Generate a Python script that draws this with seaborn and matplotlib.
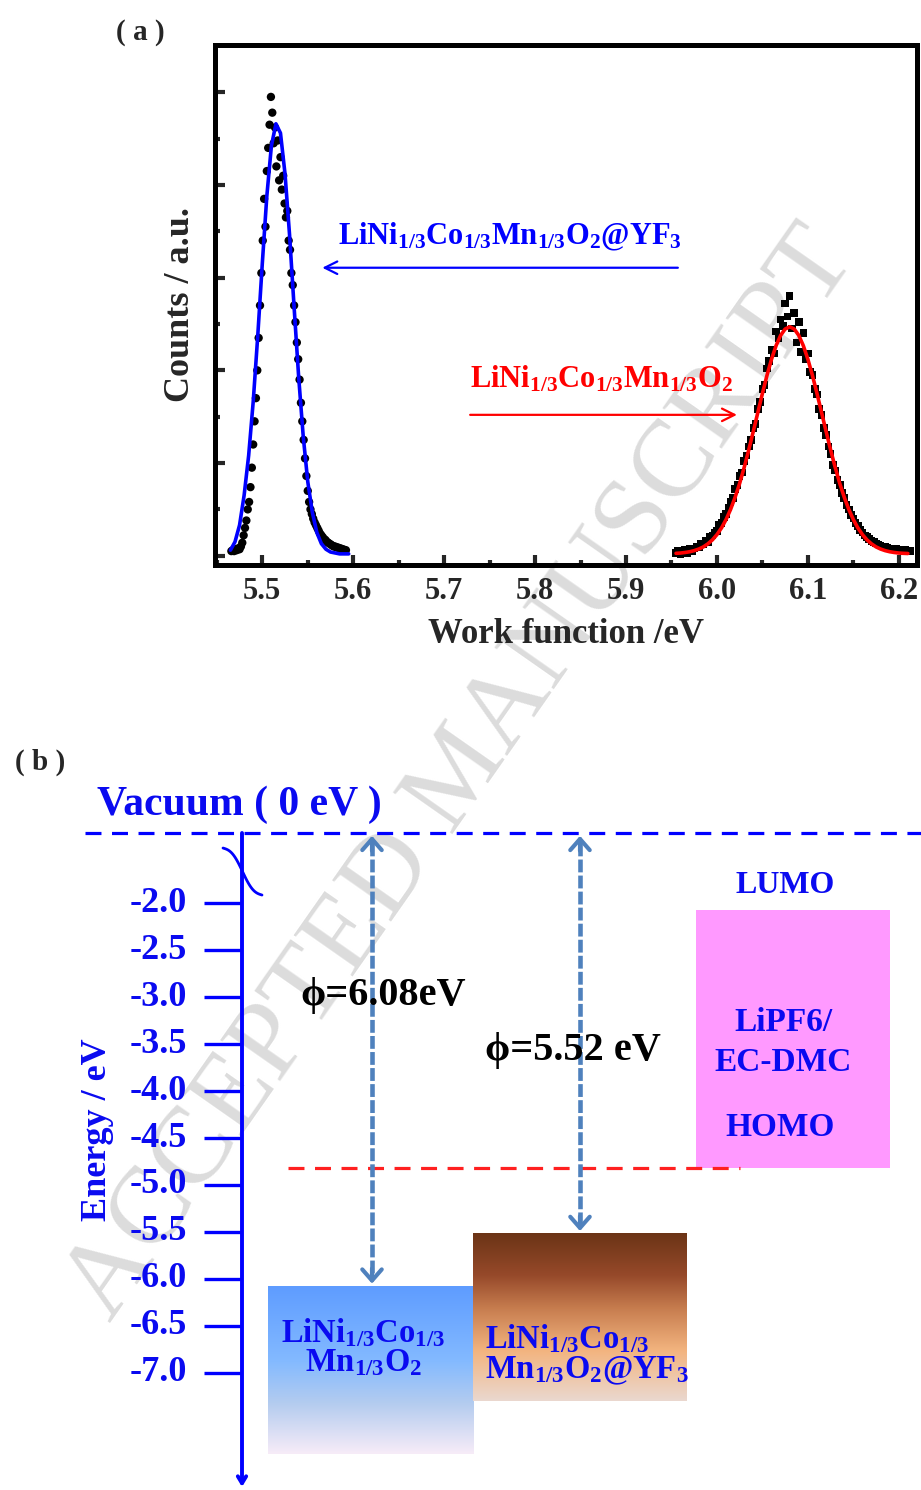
import numpy as np
import matplotlib
matplotlib.use("Agg")
import matplotlib.pyplot as plt
import seaborn as sns
from matplotlib.colors import LinearSegmentedColormap
from matplotlib.patches import Rectangle

# ---------------------------------------------------------------- data
# (a) Kelvin-probe work-function histograms
coated_ev_start, coated_ev_step = 5.466, 0.0015
coated_counts = [
    0.05, 0.06, 0.05, 0.07, 0.06, 0.08, 0.07, 0.10, 0.14, 0.22,
    0.30, 0.38, 0.50, 0.58, 0.74, 0.95, 1.20, 1.45, 1.70, 2.00,
    2.35, 2.70, 3.05, 3.40, 3.85, 3.55, 4.15, 4.40, 4.65, 4.95,
    4.78, 4.45, 4.62, 4.20, 4.48, 4.05, 4.30, 3.95, 4.10, 3.80,
    3.65, 3.72, 3.40, 3.30, 3.05, 2.92, 2.70, 2.52, 2.30, 2.12,
    1.90, 1.65, 1.45, 1.25, 1.05, 0.86, 0.70, 0.58, 0.50, 0.45,
    0.40, 0.36, 0.33, 0.30, 0.27, 0.24, 0.22, 0.20, 0.18, 0.17,
    0.15, 0.14, 0.13, 0.12, 0.11, 0.10, 0.10, 0.09, 0.09, 0.08,
    0.08, 0.07, 0.07, 0.06, 0.06,
]
coated_fit_ev = [5.465, 5.470, 5.475, 5.480, 5.485, 5.490, 5.495, 5.500, 5.505,
                 5.510, 5.515, 5.520, 5.525, 5.530, 5.535, 5.540, 5.545, 5.550,
                 5.555, 5.560, 5.565, 5.570, 5.575, 5.580, 5.585, 5.590, 5.595]
coated_fit = [0.06, 0.15, 0.33, 0.65, 1.08, 1.66, 2.37, 3.15, 3.88,
              4.42, 4.66, 4.56, 4.12, 3.46, 2.68, 1.93, 1.29, 0.80,
              0.47, 0.25, 0.13, 0.07, 0.04, 0.03, 0.02, 0.02, 0.02]

pristine_ev_start, pristine_ev_step = 5.955, 0.0025
pristine_counts = [
    0.03, 0.05, 0.02, 0.04, 0.06, 0.03, 0.07, 0.05, 0.08, 0.10,
    0.09, 0.13, 0.12, 0.16, 0.15, 0.20, 0.22, 0.25, 0.27, 0.33,
    0.35, 0.42, 0.45, 0.52, 0.58, 0.62, 0.72, 0.76, 0.86, 0.90,
    1.02, 1.08, 1.18, 1.25, 1.38, 1.42, 1.58, 1.66, 1.80, 1.84,
    2.02, 2.10, 2.22, 2.18, 2.42, 2.35, 2.55, 2.48, 2.72, 2.58,
    2.80, 2.45, 2.62, 2.30, 2.52, 2.20, 2.40, 2.12, 2.18, 1.98,
    1.95, 1.80, 1.74, 1.58, 1.52, 1.38, 1.30, 1.18, 1.10, 0.98,
    0.92, 0.82, 0.76, 0.68, 0.62, 0.55, 0.50, 0.44, 0.40, 0.35,
    0.32, 0.28, 0.25, 0.22, 0.20, 0.18, 0.16, 0.15, 0.13, 0.12,
    0.11, 0.10, 0.10, 0.09, 0.08, 0.08, 0.07, 0.07, 0.06, 0.06,
    0.05, 0.06, 0.05, 0.05,
]
pristine_fit_ev = [5.955, 5.960, 5.965, 5.970, 5.975, 5.980, 5.985, 5.990, 5.995,
                   6.000, 6.005, 6.010, 6.015, 6.020, 6.025, 6.030, 6.035, 6.040,
                   6.045, 6.050, 6.055, 6.060, 6.065, 6.070, 6.075, 6.080, 6.085,
                   6.090, 6.095, 6.100, 6.105, 6.110, 6.115, 6.120, 6.125, 6.130,
                   6.135, 6.140, 6.145, 6.150, 6.155, 6.160, 6.165, 6.170, 6.175,
                   6.180, 6.185, 6.190, 6.195, 6.200, 6.205, 6.210]
pristine_fit = [0.026, 0.029, 0.035, 0.043, 0.055, 0.072, 0.095, 0.128, 0.171,
                0.228, 0.300, 0.390, 0.500, 0.631, 0.782, 0.954, 1.142, 1.342,
                1.547, 1.751, 1.945, 2.120, 2.266, 2.377, 2.446, 2.470, 2.446,
                2.377, 2.266, 2.120, 1.945, 1.751, 1.547, 1.342, 1.142, 0.954,
                0.782, 0.631, 0.500, 0.390, 0.300, 0.228, 0.171, 0.128, 0.095,
                0.072, 0.055, 0.043, 0.035, 0.029, 0.026, 0.024]

x_major_ticks = [5.5, 5.6, 5.7, 5.8, 5.9, 6.0, 6.1, 6.2]
x_tick_labels = ["5.5", "5.6", "5.7", "5.8", "5.9", "6.0", "6.1", "6.2"]

# (b) energy-level diagram
energy_ticks = [-2.0, -2.5, -3.0, -3.5, -4.0, -4.5, -5.0, -5.5, -6.0, -6.5, -7.0]
energy_tick_labels = ["-2.0", "-2.5", "-3.0", "-3.5", "-4.0", "-4.5",
                      "-5.0", "-5.5", "-6.0", "-6.5", "-7.0"]
work_functions = [6.08, 5.52]          # pristine, YF3-coated
wf_labels = ["\u03d5=6.08eV", "\u03d5=5.52 eV"]
electrolyte_lumo = -2.07
electrolyte_homo = -4.82

coated_ev = np.round(coated_ev_start + coated_ev_step * np.arange(len(coated_counts)), 4)
pristine_ev = np.round(pristine_ev_start + pristine_ev_step * np.arange(len(pristine_counts)), 4)

# ---------------------------------------------------------------- style
sns.set_style("ticks")
plt.rcParams.update({
    "font.family": ["Liberation Serif", "DejaVu Serif"],
    "font.weight": "bold",
    "mathtext.fontset": "custom",
    "mathtext.rm": "Liberation Serif:bold",
    "mathtext.it": "Liberation Serif:bold:italic",
    "mathtext.bf": "Liberation Serif:bold",
    "mathtext.default": "regular",
    "axes.linewidth": 3.6,
    "axes.edgecolor": "black",
})

W, H = 921, 1490
fig = plt.figure(figsize=(W / 100, H / 100), dpi=100)
fig.patch.set_facecolor("white")

# faint diagonal stamp behind both panels
fig.text(462 / W, 1 - 775 / H, "ACCEPTED MANUSCRIPT", rotation=55,
         rotation_mode="anchor", ha="center", va="center", fontsize=79,
         fontweight="normal", color="#dcdcdc", zorder=-5)

# ---------------------------------------------------------------- panel (a)
ax = fig.add_axes([215 / W, 1 - 565 / H, 702 / W, 520 / H])
ax.set_facecolor("none")

sns.scatterplot(x=coated_ev, y=coated_counts, ax=ax, color="black", marker="o",
                s=36, edgecolor="none", linewidth=0, zorder=3, legend=False)
sns.scatterplot(x=pristine_ev, y=pristine_counts, ax=ax, color="black", marker="s",
                s=30, edgecolor="none", linewidth=0, zorder=3, legend=False)
sns.lineplot(x=coated_fit_ev, y=coated_fit, ax=ax, color="#0000ff", lw=2.6,
             estimator=None, sort=False, zorder=4)
sns.lineplot(x=pristine_fit_ev, y=pristine_fit, ax=ax, color="#ff0000", lw=2.6,
             estimator=None, sort=False, zorder=4)

ax.set_xlim(5.448, 6.22)
ax.set_ylim(-0.1, 5.51)
ax.set_xticks(x_major_ticks)
ax.set_xticklabels(x_tick_labels)
ax.set_xticks(np.arange(5.45, 6.21, 0.1), minor=True)
ax.set_yticks([0, 1, 2, 3, 4, 5])
ax.set_yticks([0.5, 1.5, 2.5, 3.5, 4.5], minor=True)
ax.set_yticklabels([])
ax.tick_params(axis="both", which="major", direction="in", length=7, width=3,
               labelsize=22, pad=9)
ax.tick_params(axis="both", which="minor", direction="in", length=3.5, width=3)
for lab in ax.get_xticklabels():
    lab.set_fontweight("bold")
ax.set_xlabel("Work function /eV", fontsize=25, fontweight="bold", labelpad=8)
ax.set_ylabel("Counts / a.u.", fontsize=26, fontweight="bold", labelpad=4)
for sp in ax.spines.values():
    sp.set_visible(True)
    sp.set_linewidth(3.6)

ax.text(5.5835, 3.355, r"LiNi$_{1/3}$Co$_{1/3}$Mn$_{1/3}$O$_2$@YF$_3$",
        color="#0000ff", fontsize=22, fontweight="bold", va="baseline", ha="left")
ax.annotate("", xy=(5.566, 3.107), xytext=(5.957, 3.107),
            arrowprops=dict(arrowstyle="->,head_length=0.9,head_width=0.45",
                            color="#0000ff", lw=1.6, shrinkA=0, shrinkB=0))
ax.text(5.7286, 1.81, r"LiNi$_{1/3}$Co$_{1/3}$Mn$_{1/3}$O$_2$",
        color="#ff0000", fontsize=22, fontweight="bold", va="baseline", ha="left")
ax.annotate("", xy=(6.022, 1.52), xytext=(5.7286, 1.52),
            arrowprops=dict(arrowstyle="->,head_length=0.9,head_width=0.45",
                            color="#ff0000", lw=1.6, shrinkA=0, shrinkB=0))

fig.text(140 / W, 1 - 33 / H, "( a )", fontsize=21, fontweight="bold",
         ha="center", va="center")

# ---------------------------------------------------------------- panel (b)
bx = fig.add_axes([0, 0, 1, 790 / H])
bx.set_facecolor("none")
bx.axis("off")

blue = "#0000ff"
txt_blue = "#0a0af0"
arrow_blue = "#4f81bd"
vac_y = -1.255          # drawn height of the (broken) vacuum level
axis_x = 242

bx.text(40, -0.50, "( b )", fontsize=21, fontweight="bold", ha="center", va="center")
bx.text(97, -0.957, "Vacuum ( 0 eV )", fontsize=30, fontweight="bold",
        color=txt_blue, ha="left", va="center")
bx.plot([85, W], [vac_y, vac_y], color=blue, lw=2.3, dashes=(5, 3.3),
        solid_capstyle="butt")

# energy axis with break mark and downward arrow
bx.annotate("", xy=(axis_x, -8.213), xytext=(axis_x, vac_y),
            arrowprops=dict(arrowstyle="->,head_length=0.5,head_width=0.3",
                            color=blue, lw=2.8, shrinkA=0, shrinkB=0))
brk_t = np.linspace(0, 1, 40)
brk_x = 223 + 39 * brk_t
brk_y = -1.415 - 0.50 * brk_t + 0.06 * np.sin(2 * np.pi * brk_t)
bx.plot(brk_x, brk_y, color=blue, lw=2.0)

bx.hlines(energy_ticks, 204, axis_x, color=blue, lw=2.4)
for e, lab in zip(energy_ticks, energy_tick_labels):
    bx.text(187, e, lab, fontsize=26, fontweight="bold", color=txt_blue,
            ha="right", va="center")
bx.text(97, -4.415, "Energy / eV", fontsize=26, fontweight="bold", color=txt_blue,
        rotation=90, ha="center", va="center")

# electrolyte window
bx.add_patch(Rectangle((696, electrolyte_homo), 194, electrolyte_lumo - electrolyte_homo,
                       facecolor="#ff99ff", edgecolor="none", zorder=1))
bx.plot([288, 740], [electrolyte_homo, electrolyte_homo], color="#ff2020", lw=2.3,
        dashes=(5, 3.3), zorder=3)
bx.text(785, -1.809, "LUMO", fontsize=23, fontweight="bold", color=txt_blue,
        ha="center", va="center")
bx.text(783, -3.266, "LiPF6/", fontsize=24, fontweight="bold", color=txt_blue,
        ha="center", va="center", zorder=4)
bx.text(783, -3.702, "EC-DMC", fontsize=24, fontweight="bold", color=txt_blue,
        ha="center", va="center", zorder=4)
bx.text(780, -4.383, "HOMO", fontsize=24, fontweight="bold", color=txt_blue,
        ha="center", va="center", zorder=4)

# cathode blocks, top edge at -work function
box_depth = 1.78
grad = np.linspace(0, 1, 256).reshape(-1, 1)
cmap_pristine = LinearSegmentedColormap.from_list(
    "pristine", [(0.0, "#5e9cff"), (0.45, "#84baff"), (0.7, "#b4ccef"), (1.0, "#f7ecf8")])
cmap_coated = LinearSegmentedColormap.from_list(
    "coated", [(0.0, "#6b3416"), (0.25, "#96492a"), (0.45, "#c77d4f"),
               (0.7, "#f3b47f"), (1.0, "#ead8cf")])
boxes = [(268, 473, cmap_pristine), (473, 687, cmap_coated)]
for (x0, x1, cm), wf in zip(boxes, work_functions):
    bx.imshow(grad, extent=[x0, x1, -wf - box_depth, -wf], aspect="auto",
              cmap=cm, origin="upper", zorder=1)
bx.set_xlim(0, W)
bx.set_ylim(-8.245, 0.160)

bx.text(281, -6.574, r"LiNi$_{1/3}$Co$_{1/3}$", fontsize=23.5, fontweight="bold",
        color=txt_blue, ha="left", va="center", zorder=4)
bx.text(305, -6.894, r"Mn$_{1/3}$O$_2$", fontsize=23.5, fontweight="bold",
        color=txt_blue, ha="left", va="center", zorder=4)
bx.text(485, -6.638, r"LiNi$_{1/3}$Co$_{1/3}$", fontsize=23.5, fontweight="bold",
        color=txt_blue, ha="left", va="center", zorder=4)
bx.text(485, -6.979, r"Mn$_{1/3}$O$_2$@YF$_3$", fontsize=23.5, fontweight="bold",
        color=txt_blue, ha="left", va="center", zorder=4)

# work-function arrows from the vacuum level down to each cathode
arrow_x = [372, 580]
wf_text_pos = [(300, -2.979), (485, -3.564)]
for x, wf, lab, (tx, ty) in zip(arrow_x, work_functions, wf_labels, wf_text_pos):
    top, bot = vac_y - 0.03, -wf + 0.03
    bx.plot([x, x], [top - 0.08, bot + 0.08], color=arrow_blue, lw=3.3,
            dashes=(2.8, 0.7), zorder=3)
    head = dict(arrowstyle="->,head_length=0.8,head_width=0.7", color=arrow_blue,
                lw=3.0, shrinkA=0, shrinkB=0)
    bx.annotate("", xy=(x, top), xytext=(x, top - 0.16), arrowprops=head, zorder=3)
    bx.annotate("", xy=(x, bot), xytext=(x, bot + 0.16), arrowprops=head, zorder=3)
    bx.text(tx, ty, lab, fontsize=29, fontweight="bold", color="black",
            ha="left", va="center", zorder=4)

fig.savefig("out.png", dpi=100, facecolor="white")
